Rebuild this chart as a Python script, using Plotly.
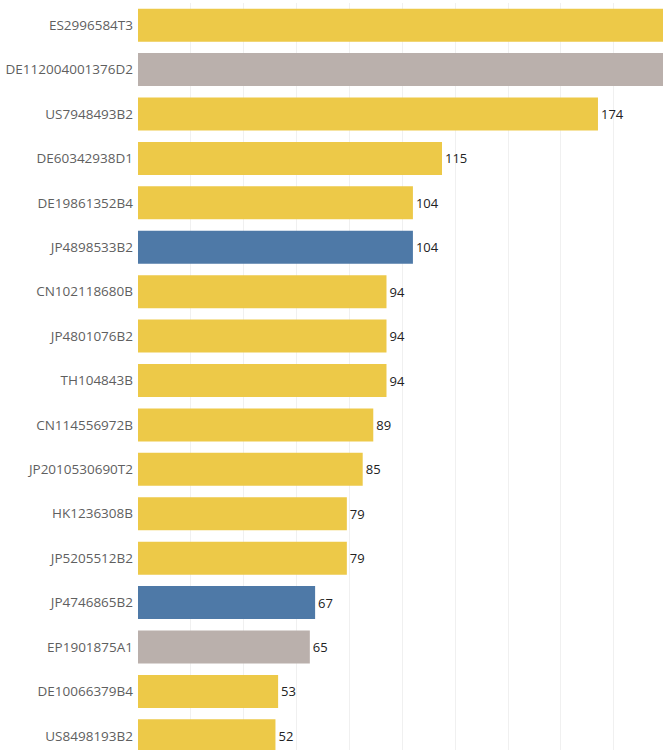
import plotly.graph_objects as go

patents = ["ES2996584T3", "DE112004001376D2", "US7948493B2", "DE60342938D1", "DE19861352B4",
           "JP4898533B2", "CN102118680B", "JP4801076B2", "TH104843B", "CN114556972B",
           "JP2010530690T2", "HK1236308B", "JP5205512B2", "JP4746865B2", "EP1901875A1",
           "DE10066379B4", "US8498193B2"]
values = [250, 215, 174, 115, 104, 104, 94, 94, 94, 89, 85, 79, 79, 67, 65, 53, 52]
groups = ["yellow", "gray", "yellow", "yellow", "yellow", "blue", "yellow", "yellow", "yellow",
          "yellow", "yellow", "yellow", "yellow", "blue", "gray", "yellow", "yellow"]

palette = {"yellow": "#EDC948", "gray": "#BAB0AC", "blue": "#4E79A7"}
x_max = 198.6

# labels of bars running past the visible axis are out of view in the reference
labels = [str(v) if v < x_max - 8 else "" for v in values]

fig = go.Figure(go.Bar(
    x=values, y=patents, orientation="h",
    marker=dict(color=[palette[g] for g in groups], line=dict(width=0)),
    text=labels, textposition="outside",
    textfont=dict(family="Open Sans, Noto Sans, sans-serif", size=13, color="#222"),
    cliponaxis=True, hoverinfo="skip",
))

fig.update_layout(
    width=663, height=750,
    margin=dict(l=138, r=0, t=3, b=0),
    paper_bgcolor="white", plot_bgcolor="white",
    bargap=0.257, showlegend=False,
    font=dict(family="Open Sans, Noto Sans, sans-serif"),
)
fig.update_xaxes(range=[0, x_max], dtick=20, showgrid=True, gridcolor="#f0f0f0", gridwidth=1,
                 zeroline=False, showticklabels=False, showline=False, fixedrange=True)
fig.update_yaxes(categoryorder="array", categoryarray=patents, range=[16.32, -0.5],
                 showgrid=False, zeroline=False, showline=False, ticks="",
                 ticklabelstandoff=4,
                 tickfont=dict(family="Open Sans, Noto Sans, sans-serif", size=13.5, color="#5f5f5f"),
                 automargin=False, fixedrange=True)

fig.write_html("out.html", config={"displayModeBar": False})
